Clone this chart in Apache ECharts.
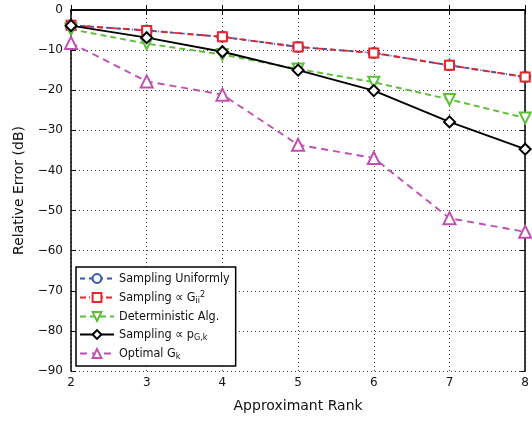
<!DOCTYPE html>
<html><head><meta charset="utf-8">
<script src="https://cdn.jsdelivr.net/npm/echarts@6/dist/echarts.min.js"></script>
<style>html,body{margin:0;padding:0;background:#fff}#c{width:532px;height:422px}</style>
</head><body><div id="c"></div>
<script>
const ranks = [2, 3, 4, 5, 6, 7, 8];
const uniform = [-3.8, -5.1, -6.7, -9.2, -10.7, -13.8, -16.7];
const samplingG2 = [-3.8, -5.1, -6.7, -9.2, -10.7, -13.8, -16.7];
const deterministic = [-4.8, -8.4, -11.1, -14.7, -18.0, -22.3, -26.9];
const samplingP = [-3.9, -6.9, -10.4, -15.0, -20.1, -27.9, -34.7];
const optimal = [-8.2, -17.8, -21.1, -33.6, -36.9, -51.9, -55.3];
const yTicks = [0, -10, -20, -30, -40, -50, -60, -70, -80, -90];
const xTicks = [2, 3, 4, 5, 6, 7, 8];

const pairs = v => ranks.map((r, i) => [r, v[i]]);
const font = 'DejaVu Sans';
const lfont = "'DejaVu Sans Condensed', 'DejaVu Sans'";
const chart = echarts.init(document.getElementById('c'));
const mk = (name, data, color, symbol, size, ltype, extra) => Object.assign({
  name, type: 'line', data: pairs(data), symbol, symbolSize: size,
  lineStyle: { color, width: 1.9, type: ltype },
  itemStyle: { color, borderColor: color, borderWidth: 1.9 },
  emphasis: { disabled: true }, animation: false, z: 3
}, extra || {});

chart.setOption({
  animation: false,
  grid: { left: 71, right: 3, top: 10, bottom: 51, show: false },
  xAxis: [{
    type: 'value', min: 2, max: 8, interval: 1,
    name: 'Approximant Rank', nameLocation: 'middle', nameGap: 28,
    nameTextStyle: { fontFamily: font, fontSize: 14, color: '#111' },
    axisLine: { lineStyle: { color: '#000', width: 1.5 } },
    axisTick: { inside: true, length: 5, lineStyle: { color: '#000' } },
    axisLabel: { fontFamily: font, fontSize: 12, color: '#111', margin: 6,
      formatter: v => xTicks.includes(v) ? String(v) : '' },
    splitLine: { show: true, lineStyle: { color: '#444', type: [1, 3], width: 1 } }
  }, {
    type: 'value', min: 2, max: 8, interval: 1, position: 'top',
    axisLine: { lineStyle: { color: '#000', width: 1.5 } },
    axisTick: { inside: true, length: 5, lineStyle: { color: '#000' } },
    axisLabel: { show: false }, splitLine: { show: false }
  }],
  yAxis: [{
    type: 'value', min: -90, max: 0, interval: 10,
    name: 'Relative Error (dB)', nameLocation: 'middle', nameGap: 44,
    nameTextStyle: { fontFamily: font, fontSize: 14, color: '#111' },
    axisLine: { show: true, lineStyle: { color: '#000', width: 1.5 } },
    axisTick: { show: true, inside: true, length: 5, lineStyle: { color: '#000' } },
    axisLabel: { fontFamily: font, fontSize: 12, color: '#111', margin: 8,
      formatter: v => yTicks.includes(v) ? (v < 0 ? '\u2212' + Math.abs(v) : String(v)) : '' },
    splitLine: { show: true, lineStyle: { color: '#444', type: [1, 3], width: 1 } }
  }, {
    type: 'value', min: -90, max: 0, interval: 10, position: 'right',
    axisLine: { show: true, lineStyle: { color: '#000', width: 1.5 } },
    axisTick: { show: true, inside: true, length: 5, lineStyle: { color: '#000' } },
    axisLabel: { show: false }, splitLine: { show: false }
  }],
  legend: {
    orient: 'vertical', left: 76, top: 267,
    itemWidth: 34, itemHeight: 11, itemGap: 5,
    padding: [5, 6, 5, 3],
    borderColor: '#000', borderWidth: 1.5, backgroundColor: '#fff',
    textStyle: { fontFamily: lfont, fontSize: 12.5, color: '#111',
      rich: {
        sub: { fontFamily: lfont, fontSize: 9, color: '#111', verticalAlign: 'bottom', padding: [6, 0, 0, 0] },
        sup: { fontFamily: lfont, fontSize: 9, color: '#111', verticalAlign: 'top', padding: [0, 0, 6, 0] }
      } },
    formatter: n => ({
      'Sampling G2': 'Sampling \u221D G{sub|ii}{sup|2}',
      'Sampling p': 'Sampling \u221D p{sub|G,k}',
      'Optimal': 'Optimal G{sub|k}'
    }[n] || n),
    data: ['Sampling Uniformly', 'Sampling G2', 'Deterministic Alg.', 'Sampling p', 'Optimal']
  },
  series: [
    mk('Sampling Uniformly', uniform, '#3355b5', 'emptyCircle', 10, [5, 4]),
    mk('Sampling G2', samplingG2, '#e8262a', 'emptyRect', 9, [6, 3, 1, 3]),
    mk('Deterministic Alg.', deterministic, '#5cbf3a', 'emptyTriangle', 11, [6, 4], { symbolRotate: 180 }),
    mk('Sampling p', samplingP, '#000000', 'emptyDiamond', 11, 'solid'),
    mk('Optimal', optimal, '#c050b0', 'emptyTriangle', 12, [7, 5])
  ]
});
</script></body></html>
